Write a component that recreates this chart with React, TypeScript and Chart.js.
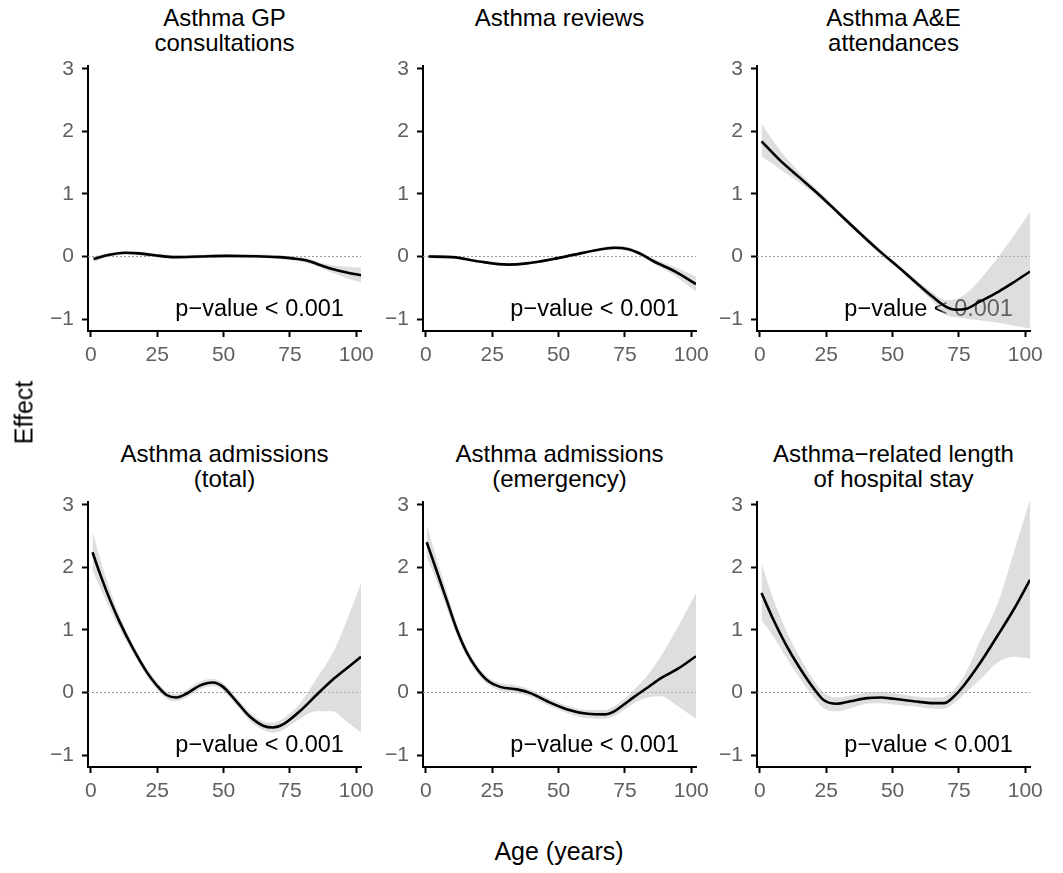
import React, { useEffect, useRef } from "react";
import { Chart, registerables } from "chart.js";

Chart.register(...registerables);

const FONT = "'Liberation Sans', Arial, Helvetica, sans-serif";
const TICK_COLOR = "#606060";
const BAND_COLOR = "rgba(190,190,190,0.5)";

const xTicks = [0, 25, 50, 75, 100];
const yTicks = [-1, 0, 1, 2, 3];
const X_MIN = -1.1;
const X_MAX = 101.8;
const Y_MIN = -1.19;
const Y_MAX = 3.05;
const PVALUE_TEXT = "p\u2212value < 0.001";
const PVALUE_X = 63.6;
const PVALUE_Y = -0.955;

// Panel 1: Asthma GP consultations
const gpAges = [1, 6, 13, 18, 26, 31, 41, 51, 61, 71, 76, 81, 86, 91, 96, 101.8];
const gpFit = [-0.04, 0.02, 0.06, 0.05, 0.01, -0.01, 0.0, 0.01, 0.005, -0.01, -0.03, -0.06, -0.13, -0.2, -0.25, -0.3];
const gpHi = [0.01, 0.05, 0.09, 0.08, 0.04, 0.02, 0.03, 0.04, 0.035, 0.02, 0.0, -0.02, -0.09, -0.14, -0.16, -0.18];
const gpLo = [-0.09, -0.01, 0.03, 0.02, -0.02, -0.04, -0.03, -0.02, -0.025, -0.04, -0.06, -0.1, -0.17, -0.26, -0.34, -0.42];

// Panel 2: Asthma reviews
const revAges = [1, 10, 20, 31, 38, 48, 56, 64, 71, 76, 81, 86, 94, 101.8];
const revFit = [0.0, -0.01, -0.08, -0.13, -0.11, -0.04, 0.03, 0.1, 0.14, 0.12, 0.04, -0.08, -0.24, -0.44];
const revHi = [0.03, 0.01, -0.06, -0.11, -0.09, -0.02, 0.05, 0.12, 0.17, 0.15, 0.07, -0.04, -0.17, -0.32];
const revLo = [-0.03, -0.03, -0.1, -0.15, -0.13, -0.06, 0.01, 0.08, 0.11, 0.09, 0.01, -0.12, -0.31, -0.56];

// Panel 3: Asthma A&E attendances
const aeAges = [0.6, 7.5, 15, 22.5, 30, 37.5, 45, 52.5, 60, 65, 70, 74, 77.5, 82.5, 90, 95, 101.8];
const aeFit = [1.84, 1.54, 1.26, 0.98, 0.68, 0.38, 0.09, -0.18, -0.46, -0.64, -0.8, -0.85, -0.84, -0.73, -0.56, -0.43, -0.24];
const aeHi = [2.12, 1.7, 1.34, 1.03, 0.72, 0.42, 0.13, -0.14, -0.41, -0.57, -0.7, -0.68, -0.6, -0.39, 0.0, 0.29, 0.71];
const aeLo = [1.6, 1.4, 1.18, 0.93, 0.64, 0.34, 0.05, -0.22, -0.51, -0.71, -0.93, -0.97, -0.99, -1.02, -1.06, -1.1, -1.15];

// Panel 4: Asthma admissions (total)
const totAges = [0.6, 3.4, 7.2, 10.9, 15.9, 21, 24.7, 28.5, 32.2, 36, 41, 46, 49.8, 54.8, 59.8, 64.9, 68.6, 72.4, 78.7, 85, 91, 96, 101.8];
const totFit = [2.24, 1.9, 1.48, 1.12, 0.7, 0.33, 0.12, -0.04, -0.08, -0.02, 0.11, 0.16, 0.09, -0.14, -0.38, -0.53, -0.56, -0.51, -0.3, -0.04, 0.2, 0.37, 0.57];
const totHi = [2.58, 2.15, 1.64, 1.22, 0.77, 0.39, 0.18, 0.02, -0.02, 0.04, 0.17, 0.22, 0.15, -0.08, -0.31, -0.46, -0.48, -0.42, -0.18, 0.22, 0.62, 1.1, 1.74];
const totLo = [1.95, 1.68, 1.33, 1.02, 0.63, 0.27, 0.06, -0.1, -0.14, -0.08, 0.05, 0.1, 0.03, -0.2, -0.45, -0.6, -0.64, -0.6, -0.42, -0.3, -0.3, -0.45, -0.64];

// Panel 5: Asthma admissions (emergency)
const emAges = [0.3, 4, 7.8, 11.6, 15.4, 19.2, 23, 28, 34.3, 39.4, 45.7, 53.3, 60.9, 67.2, 71, 74.7, 78.5, 83.6, 88.6, 95, 101.8];
const emFit = [2.4, 1.95, 1.48, 1.01, 0.64, 0.38, 0.2, 0.09, 0.05, -0.01, -0.14, -0.27, -0.34, -0.35, -0.3, -0.19, -0.07, 0.08, 0.23, 0.38, 0.58];
const emHi = [2.68, 2.15, 1.62, 1.11, 0.71, 0.44, 0.26, 0.15, 0.11, 0.05, -0.08, -0.21, -0.28, -0.28, -0.22, -0.1, 0.05, 0.28, 0.58, 1.05, 1.59];
const emLo = [2.16, 1.78, 1.36, 0.92, 0.57, 0.32, 0.14, 0.03, -0.01, -0.07, -0.2, -0.33, -0.41, -0.42, -0.38, -0.28, -0.17, -0.08, -0.06, -0.22, -0.42];

// Panel 6: Asthma-related length of hospital stay
const losAges = [0.6, 5, 10, 15.2, 20.2, 24, 29, 34, 40.4, 45.5, 50.5, 58, 65.7, 69.4, 73.2, 77, 83.3, 89.6, 96, 101.8];
const losFit = [1.59, 1.17, 0.75, 0.38, 0.07, -0.12, -0.18, -0.14, -0.09, -0.08, -0.1, -0.14, -0.17, -0.17, -0.06, 0.12, 0.49, 0.91, 1.35, 1.8];
const losHi = [2.06, 1.5, 0.98, 0.55, 0.2, 0.0, -0.08, -0.05, 0.0, 0.01, -0.01, -0.06, -0.08, -0.07, 0.05, 0.27, 0.85, 1.42, 2.28, 3.08];
const losLo = [1.15, 0.9, 0.55, 0.22, -0.07, -0.25, -0.3, -0.25, -0.18, -0.17, -0.19, -0.22, -0.26, -0.26, -0.17, -0.02, 0.22, 0.48, 0.57, 0.54];

const panelTitles = [
  "Asthma GP\nconsultations",
  "Asthma reviews",
  "Asthma A&E\nattendances",
  "Asthma admissions\n(total)",
  "Asthma admissions\n(emergency)",
  "Asthma\u2212related length\nof hospital stay",
];

const panelSeries = [
  { ages: gpAges, fit: gpFit, lo: gpLo, hi: gpHi },
  { ages: revAges, fit: revFit, lo: revLo, hi: revHi },
  { ages: aeAges, fit: aeFit, lo: aeLo, hi: aeHi },
  { ages: totAges, fit: totFit, lo: totLo, hi: totHi },
  { ages: emAges, fit: emFit, lo: emLo, hi: emHi },
  { ages: losAges, fit: losFit, lo: losLo, hi: losHi },
];

// layout (page pixels of each plot area)
const COL_LEFT = [88, 423, 757];
const ROW_TOP = [60, 496];
const AREA_W = 273;
const AREA_H = 271;
const Y_AXIS_W = 60;
const X_AXIS_H = 40;
const PAD_TOP = 15;
const PAD_RIGHT = 25;

const pvaluePlugin = {
  id: "pvalueText",
  beforeDatasetsDraw(chart: any) {
    const { ctx, scales } = chart;
    ctx.save();
    ctx.font = `23.5px ${FONT}`;
    ctx.fillStyle = "#000000";
    ctx.textAlign = "center";
    ctx.textBaseline = "alphabetic";
    ctx.fillText(PVALUE_TEXT, scales.x.getPixelForValue(PVALUE_X), scales.y.getPixelForValue(PVALUE_Y));
    ctx.restore();
  },
};

const fmt = (v: number) => (v < 0 ? "\u2212" + Math.abs(v) : String(v));

function Panel({ index }: { index: number }) {
  const ref = useRef<HTMLCanvasElement>(null);
  const col = index % 3;
  const row = Math.floor(index / 3);
  const areaLeft = COL_LEFT[col];
  const areaTop = ROW_TOP[row];
  const cw = Y_AXIS_W + AREA_W + PAD_RIGHT;
  const ch = PAD_TOP + AREA_H + X_AXIS_H;

  useEffect(() => {
    const s = panelSeries[index];
    const pts = (ys: number[]) => s.ages.map((a, i) => ({ x: a, y: ys[i] }));
    const chart = new Chart(ref.current as HTMLCanvasElement, {
      type: "line",
      data: {
        datasets: [
          {
            data: pts(s.fit),
            borderColor: "#000000",
            borderWidth: 2.6,
            pointRadius: 0,
            cubicInterpolationMode: "monotone",
            fill: false,
            order: 0,
          },
          {
            data: pts(s.hi),
            borderColor: "rgba(0,0,0,0)",
            borderWidth: 0,
            pointRadius: 0,
            cubicInterpolationMode: "monotone",
            fill: "+1",
            backgroundColor: BAND_COLOR,
            order: 1,
          },
          {
            data: pts(s.lo),
            borderColor: "rgba(0,0,0,0)",
            borderWidth: 0,
            pointRadius: 0,
            cubicInterpolationMode: "monotone",
            fill: false,
            order: 2,
          },
          {
            data: [
              { x: X_MIN, y: 0 },
              { x: X_MAX, y: 0 },
            ],
            borderColor: "#9a9a9a",
            borderWidth: 1,
            borderDash: [2, 2],
            pointRadius: 0,
            fill: false,
            order: 3,
          },
        ],
      } as any,
      options: {
        responsive: false,
        animation: false,
        devicePixelRatio: 1,
        events: [],
        layout: { padding: { top: PAD_TOP, right: PAD_RIGHT, left: 0, bottom: 0 } },
        plugins: {
          legend: { display: false },
          tooltip: { enabled: false },
          title: { display: false },
        },
        scales: {
          x: {
            type: "linear",
            min: X_MIN,
            max: X_MAX,
            afterBuildTicks: (sc: any) => {
              sc.ticks = xTicks.map((v) => ({ value: v }));
            },
            afterFit: (sc: any) => {
              sc.height = X_AXIS_H;
            },
            grid: {
              display: true,
              drawOnChartArea: false,
              drawTicks: true,
              tickLength: 6,
              tickWidth: 2,
              tickColor: "#000000",
            },
            border: { display: true, color: "#000000", width: 2 },
            ticks: {
              color: TICK_COLOR,
              font: { family: FONT, size: 21 },
              padding: 6,
              maxRotation: 0,
              autoSkip: false,
              callback: (v: any) => fmt(Number(v)),
            },
          },
          y: {
            type: "linear",
            min: Y_MIN,
            max: Y_MAX,
            afterBuildTicks: (sc: any) => {
              sc.ticks = yTicks.map((v) => ({ value: v }));
            },
            afterFit: (sc: any) => {
              sc.width = Y_AXIS_W;
            },
            grid: {
              display: true,
              drawOnChartArea: false,
              drawTicks: true,
              tickLength: 6,
              tickWidth: 2,
              tickColor: "#000000",
            },
            border: { display: true, color: "#000000", width: 2 },
            ticks: {
              color: TICK_COLOR,
              font: { family: FONT, size: 21 },
              padding: 8,
              autoSkip: false,
              callback: (v: any) => fmt(Number(v)),
            },
          },
        },
      } as any,
      plugins: [pvaluePlugin],
    });
    return () => chart.destroy();
  }, [index]);

  return (
    <>
      <div
        style={{
          position: "absolute",
          left: areaLeft + AREA_W / 2 - 170,
          top: row === 0 ? 5.2 : 441.2,
          width: 340,
          textAlign: "center",
          fontFamily: FONT,
          fontSize: 24,
          lineHeight: "25px",
          color: "#000000",
          whiteSpace: "pre-line",
        }}
      >
        {panelTitles[index]}
      </div>
      <canvas
        ref={ref}
        width={cw}
        height={ch}
        style={{
          position: "absolute",
          left: areaLeft - Y_AXIS_W,
          top: areaTop - PAD_TOP,
          width: cw,
          height: ch,
          display: "block",
        }}
      />
    </>
  );
}

export default function App() {
  return (
    <div
      style={{
        position: "absolute",
        left: 0,
        top: 0,
        width: 1063,
        height: 873,
        background: "#ffffff",
        overflow: "hidden",
      }}
    >
      {panelSeries.map((_, i) => (
        <Panel key={i} index={i} />
      ))}
      <div
        style={{
          position: "absolute",
          left: 24.3 - 100,
          top: 412 - 12.5,
          width: 200,
          height: 25,
          lineHeight: "25px",
          textAlign: "center",
          fontFamily: FONT,
          fontSize: 25,
          color: "#000000",
          transform: "rotate(-90deg)",
          transformOrigin: "50% 50%",
        }}
      >
        Effect
      </div>
      <div
        style={{
          position: "absolute",
          left: 559 - 150,
          top: 838.8,
          width: 300,
          lineHeight: "25px",
          textAlign: "center",
          fontFamily: FONT,
          fontSize: 25,
          color: "#000000",
        }}
      >
        Age (years)
      </div>
    </div>
  );
}
